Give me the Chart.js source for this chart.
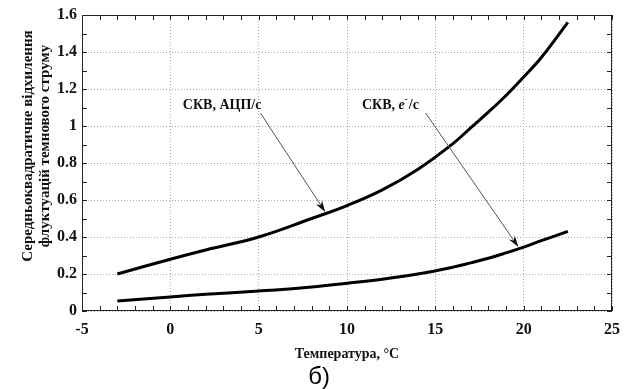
<!DOCTYPE html>
<html>
<head>
<meta charset="utf-8">
<script src="https://cdn.jsdelivr.net/npm/chart.js@4"></script>
<style>
  html, body { margin: 0; padding: 0; background: #fff; }
  #wrap { width: 635px; height: 389px; }
</style>
</head>
<body>
<div id="wrap"><canvas id="myChart" width="635" height="389"></canvas></div>
<script>
// temperature, °C
const temps = [-3, 0, 2, 5, 8, 10, 12, 14, 16, 17, 18, 19, 20, 21, 22.5];
// СКВ, АЦП/с
const adcValues = [0.20, 0.28, 0.33, 0.40, 0.50, 0.57, 0.655, 0.765, 0.905, 0.99, 1.075, 1.165, 1.265, 1.37, 1.56];
// СКВ, e-/с
const electronValues = [0.054, 0.076, 0.09, 0.108, 0.13, 0.15, 0.172, 0.20, 0.237, 0.26, 0.285, 0.314, 0.345, 0.38, 0.43];

const xTicks = [-5, 0, 5, 10, 15, 20, 25];
const yTicks = [0, 0.2, 0.4, 0.6, 0.8, 1, 1.2, 1.4, 1.6];

// annotation arrows: label anchor -> tip, in data units
const arrowAdc = { from: [5.1, 1.07], to: [8.77, 0.535] };
const arrowEl = { from: [14.45, 1.07], to: [19.7, 0.346] };

const serif = '"Liberation Serif", "Times New Roman", serif';

function toPoints(xs, ys) {
    return xs.map((x, i) => ({ x: x, y: ys[i] }));
}

const decor = {
    id: 'decor',
    afterDraw(chart) {
        const { ctx, chartArea: a, scales: { x, y } } = chart;
        ctx.save();

        // frame
        ctx.strokeStyle = '#222';
        ctx.lineWidth = 1;
        ctx.strokeRect(a.left + 0.5, a.top + 0.5, a.right - a.left - 1, a.bottom - a.top - 1);

        // inward minor ticks
        ctx.beginPath();
        for (let v = -5; v <= 25; v += 1) {
            const px = Math.round(x.getPixelForValue(v)) + 0.5;
            ctx.moveTo(px, a.bottom); ctx.lineTo(px, a.bottom - 5);
            ctx.moveTo(px, a.top); ctx.lineTo(px, a.top + 5);
        }
        for (let i = 0; i <= 16; i++) {
            const py = Math.round(y.getPixelForValue(i / 10)) + 0.5;
            ctx.moveTo(a.left, py); ctx.lineTo(a.left + 5, py);
            ctx.moveTo(a.right, py); ctx.lineTo(a.right - 5, py);
        }
        ctx.stroke();

        // arrows
        function arrow(ar) {
            const x1 = x.getPixelForValue(ar.from[0]), y1 = y.getPixelForValue(ar.from[1]);
            const x2 = x.getPixelForValue(ar.to[0]), y2 = y.getPixelForValue(ar.to[1]);
            const ang = Math.atan2(y2 - y1, x2 - x1);
            ctx.strokeStyle = '#555';
            ctx.lineWidth = 1;
            ctx.beginPath();
            ctx.moveTo(x1, y1); ctx.lineTo(x2 - 8 * Math.cos(ang), y2 - 8 * Math.sin(ang));
            ctx.stroke();
            ctx.fillStyle = '#111';
            ctx.beginPath();
            ctx.moveTo(x2, y2);
            ctx.lineTo(x2 - 12 * Math.cos(ang - 0.3), y2 - 12 * Math.sin(ang - 0.3));
            ctx.lineTo(x2 - 8 * Math.cos(ang), y2 - 8 * Math.sin(ang));
            ctx.lineTo(x2 - 12 * Math.cos(ang + 0.3), y2 - 12 * Math.sin(ang + 0.3));
            ctx.closePath();
            ctx.fill();
        }
        arrow(arrowAdc);
        arrow(arrowEl);

        // labels
        ctx.fillStyle = '#111';
        ctx.textBaseline = 'middle';
        ctx.font = 'bold 14px ' + serif;
        ctx.textAlign = 'right';
        ctx.fillText('СКВ, АЦП/с', x.getPixelForValue(arrowAdc.from[0]) + 1, y.getPixelForValue(arrowAdc.from[1]) - 8);

        ctx.textAlign = 'left';
        let lx = 362;
        const ly = y.getPixelForValue(arrowEl.from[1]) - 8;
        ctx.fillText('СКВ, ', lx, ly);
        lx += ctx.measureText('СКВ, ').width;
        ctx.font = 'italic bold 14px ' + serif;
        ctx.fillText('e', lx, ly);
        lx += ctx.measureText('e').width;
        ctx.font = 'bold 9px ' + serif;
        ctx.fillText('-', lx, ly - 5);
        lx += ctx.measureText('-').width + 1;
        ctx.font = 'bold 14px ' + serif;
        ctx.fillText('/с', lx, ly);

        // axis titles
        ctx.textAlign = 'center';
        ctx.font = 'bold 14px ' + serif;
        ctx.fillText('Температура, °C', (a.left + a.right) / 2, 354);

        ctx.font = '24px "Liberation Sans", Arial, sans-serif';
        ctx.fillStyle = '#000';
        ctx.fillText('б)', 319, 377);

        ctx.save();
        ctx.translate(28, 146);
        ctx.rotate(-Math.PI / 2);
        ctx.font = 'bold 15px ' + serif;
        ctx.fillStyle = '#111';
        ctx.fillText('Середньоквадратичне відхилення', 0, 0);
        ctx.fillText('флуктуацій темнового струму', 0, 17);
        ctx.restore();

        ctx.restore();
    }
};

new Chart(document.getElementById('myChart').getContext('2d'), {
    type: 'scatter',
    data: {
        datasets: [{
            label: 'СКВ, АЦП/с',
            data: toPoints(temps, adcValues),
            showLine: true,
            borderColor: '#000',
            borderWidth: 3,
            pointRadius: 0,
            tension: 0.4
        }, {
            label: 'СКВ, e-/с',
            data: toPoints(temps, electronValues),
            showLine: true,
            borderColor: '#000',
            borderWidth: 3,
            pointRadius: 0,
            tension: 0.4
        }]
    },
    options: {
        responsive: false,
        animation: false,
        layout: { padding: { left: 0, right: 23, top: 15, bottom: 0 } },
        plugins: { legend: { display: false }, tooltip: { enabled: false } },
        scales: {
            x: {
                type: 'linear',
                min: -5, max: 25,
                afterBuildTicks: s => { s.ticks = xTicks.map(v => ({ value: v })); },
                afterFit: s => { s.height = 78; },
                grid: { color: '#aaa', drawTicks: false, lineWidth: 1 },
                border: { display: false, dash: [1, 2] },
                ticks: { padding: 9, color: '#111', font: { family: serif, size: 16, weight: 'bold' }, callback: v => String(v) }
            },
            y: {
                min: 0, max: 1.6,
                afterBuildTicks: s => { s.ticks = yTicks.map(v => ({ value: v })); },
                afterFit: s => { s.width = 82; },
                grid: { color: '#aaa', drawTicks: false, lineWidth: 1 },
                border: { display: false, dash: [1, 2] },
                ticks: { padding: 5, color: '#111', font: { family: serif, size: 16, weight: 'bold' }, callback: v => String(v) }
            }
        }
    },
    plugins: [decor]
});
</script>
</body>
</html>
